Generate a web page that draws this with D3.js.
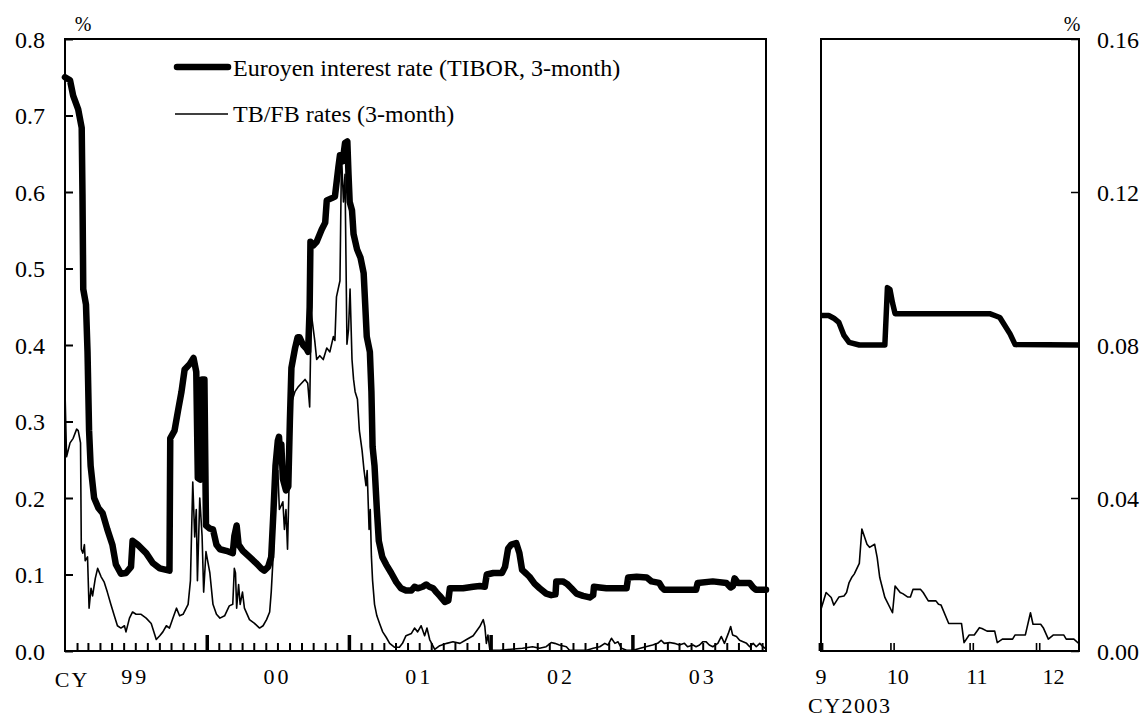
<!DOCTYPE html>
<html><head><meta charset="utf-8">
<script src="https://cdn.jsdelivr.net/npm/d3@7"></script>
<style>
body{margin:0;background:#fff;}
svg text{font-family:"Liberation Serif","Times New Roman",serif;fill:#000;}
</style></head><body>
<svg id="c" width="1146" height="720"></svg>
<script>
// ---------- DATA ----------
const tiborDates = ["1999-01-01","1999-01-14","1999-01-22","1999-02-04","1999-02-13","1999-02-15","1999-02-17","1999-02-24","1999-02-28","1999-03-04","1999-03-08","1999-03-17","1999-03-28","1999-04-08","1999-04-20","1999-05-03","1999-05-12","1999-05-25","1999-06-07","1999-06-20","1999-06-24","1999-07-07","1999-07-29","1999-08-15","1999-09-02","1999-09-27","1999-09-29","1999-10-10","1999-10-19","1999-10-28","1999-11-05","1999-11-18","1999-11-28","1999-12-05","1999-12-09","1999-12-15","1999-12-20","1999-12-26","1999-12-30",
"2000-01-09","2000-01-17","2000-01-26","2000-02-04","2000-02-20","2000-03-08","2000-03-12","2000-03-18","2000-03-23","2000-04-03","2000-04-20","2000-05-07","2000-05-20","2000-05-28","2000-06-07","2000-06-15","2000-06-21","2000-06-26","2000-07-02","2000-07-05","2000-07-09","2000-07-11","2000-07-15","2000-07-23","2000-07-29","2000-08-02","2000-08-06","2000-08-15","2000-08-22","2000-08-27","2000-09-05","2000-09-14","2000-09-18","2000-09-22","2000-09-24","2000-10-01","2000-10-10","2000-10-23","2000-11-01","2000-11-05","2000-11-18","2000-11-26","2000-12-05","2000-12-09","2000-12-16","2000-12-22","2000-12-28","2000-12-31",
"2001-01-03","2001-01-09","2001-01-13","2001-01-22","2001-01-31","2001-02-08","2001-02-12","2001-02-16","2001-02-24","2001-02-28","2001-03-03","2001-03-08","2001-03-14","2001-03-19","2001-03-28","2001-04-07","2001-04-20","2001-05-03","2001-05-15","2001-05-28","2001-06-11","2001-06-19","2001-06-27","2001-07-10","2001-07-19","2001-07-27","2001-08-06","2001-08-14","2001-08-23","2001-09-05","2001-09-14","2001-09-18","2001-10-01","2001-10-22","2001-11-17","2001-12-04","2001-12-17","2001-12-22",
"2002-01-08","2002-01-30","2002-02-07","2002-02-15","2002-02-23","2002-03-08","2002-03-16","2002-03-23","2002-04-03","2002-04-11","2002-04-24","2002-05-07","2002-05-24","2002-06-06","2002-06-17","2002-06-19","2002-07-06","2002-07-16","2002-07-28","2002-08-10","2002-08-27","2002-09-13","2002-09-22","2002-09-24","2002-10-09","2002-10-26","2002-12-17","2002-12-21",
"2003-01-12","2003-02-07","2003-02-19","2003-03-11","2003-03-18","2003-03-24","2003-06-14","2003-06-18","2003-07-27","2003-08-31","2003-09-11","2003-09-17","2003-09-21","2003-09-30","2003-10-30","2003-11-08","2003-11-15","2003-12-11"];
const tiborValues = [0.750,0.746,0.726,0.708,0.684,0.597,0.473,0.453,0.391,0.288,0.242,0.200,0.187,0.180,0.159,0.139,0.113,0.101,0.102,0.110,0.144,0.139,0.128,0.115,0.108,0.105,0.278,0.288,0.314,0.339,0.368,0.375,0.383,0.365,0.226,0.224,0.355,0.355,0.164,
0.160,0.159,0.139,0.133,0.131,0.128,0.150,0.164,0.139,0.131,0.123,0.115,0.108,0.105,0.110,0.123,0.185,0.242,0.275,0.280,0.250,0.270,0.225,0.210,0.215,0.300,0.370,0.395,0.410,0.410,0.400,0.395,0.391,0.450,0.535,0.530,0.535,0.551,0.560,0.589,0.592,0.594,0.633,0.648,0.640,0.664,0.666,0.623,
0.587,0.576,0.545,0.525,0.514,0.494,0.453,0.411,0.391,0.339,0.267,0.242,0.185,0.144,0.123,0.113,0.102,0.090,0.082,0.079,0.079,0.084,0.082,0.084,0.087,0.084,0.082,0.077,0.072,0.064,0.066,0.082,0.082,0.082,0.084,0.085,0.084,0.100,
0.102,0.102,0.110,0.134,0.139,0.141,0.128,0.106,0.101,0.097,0.088,0.082,0.075,0.073,0.074,0.091,0.091,0.088,0.082,0.075,0.072,0.070,0.073,0.084,0.083,0.082,0.082,0.096,
0.097,0.096,0.091,0.089,0.083,0.080,0.080,0.089,0.091,0.089,0.083,0.085,0.095,0.089,0.089,0.083,0.080,0.080];

const tbfbDates = ["1999-01-01","1999-01-05","1999-01-14","1999-01-22","1999-01-31","1999-02-04","1999-02-10","1999-02-12","1999-02-16","1999-02-20","1999-02-22","1999-02-28","1999-03-04","1999-03-09","1999-03-13","1999-03-20","1999-03-26","1999-04-04","1999-04-12","1999-04-20","1999-04-29","1999-05-08","1999-05-16","1999-05-25","1999-06-03","1999-06-07","1999-06-16","1999-06-24","1999-07-03","1999-07-16","1999-07-29","1999-08-11","1999-08-24","1999-09-02","1999-09-10","1999-09-19","1999-09-27","1999-10-06","1999-10-15","1999-10-23","1999-11-01","1999-11-14","1999-11-20","1999-11-26","1999-12-01","1999-12-05","1999-12-08","1999-12-14","1999-12-20","1999-12-24","1999-12-30",
"2000-01-09","2000-01-17","2000-01-26","2000-02-04","2000-02-16","2000-02-28","2000-03-08","2000-03-12","2000-03-15","2000-03-18","2000-03-23","2000-03-27","2000-04-02","2000-04-07","2000-04-20","2000-05-03","2000-05-16","2000-05-25","2000-06-03","2000-06-11","2000-06-15","2000-06-21","2000-06-26","2000-07-02","2000-07-06","2000-07-15","2000-07-19","2000-07-23","2000-07-27","2000-08-02","2000-08-06","2000-08-15","2000-08-23","2000-09-01","2000-09-10","2000-09-17","2000-09-22","2000-09-26","2000-10-05","2000-10-10","2000-10-18","2000-10-27","2000-11-05","2000-11-13","2000-11-22","2000-11-26","2000-11-30","2000-12-09","2000-12-13","2000-12-18","2000-12-22","2000-12-27","2000-12-31",
"2001-01-04","2001-01-09","2001-01-13","2001-01-17","2001-01-23","2001-01-28","2001-02-04","2001-02-09","2001-02-14","2001-02-17","2001-02-22","2001-02-25","2001-02-28","2001-03-03","2001-03-08","2001-03-14","2001-03-21","2001-03-29","2001-04-07","2001-04-16","2001-04-28","2001-05-11","2001-05-19","2001-05-28","2001-06-11","2001-06-19","2001-06-27","2001-07-06","2001-07-15","2001-07-21","2001-07-28","2001-08-10","2001-08-23","2001-09-10","2001-09-26","2001-10-14","2001-10-31","2001-11-17","2001-12-04","2001-12-13","2001-12-17","2001-12-21","2001-12-25","2001-12-30",
"2002-01-25","2002-03-24","2002-04-19","2002-05-07","2002-05-24","2002-06-06","2002-06-15","2002-06-27","2002-07-15","2002-07-23","2002-08-18","2002-09-05","2002-09-22","2002-10-09","2002-10-22","2002-10-30","2002-11-08","2002-11-17","2002-11-25","2002-12-04","2002-12-17",
"2003-01-03","2003-01-21","2003-02-07","2003-02-22","2003-03-07","2003-03-16","2003-03-24","2003-04-07","2003-04-19","2003-05-02","2003-05-15","2003-05-23","2003-06-06","2003-06-14","2003-06-23","2003-07-01","2003-07-10","2003-07-18","2003-07-27","2003-08-09","2003-08-18","2003-08-26","2003-09-05","2003-09-11","2003-09-16","2003-09-26","2003-10-04","2003-10-13","2003-10-22","2003-10-30","2003-11-08","2003-11-16","2003-11-25","2003-12-03","2003-12-11"];
const tbfbValues = [0.340,0.254,0.272,0.278,0.290,0.288,0.272,0.133,0.128,0.139,0.118,0.123,0.056,0.082,0.072,0.095,0.108,0.097,0.090,0.077,0.061,0.046,0.033,0.030,0.033,0.025,0.043,0.051,0.048,0.048,0.043,0.036,0.015,0.020,0.025,0.033,0.030,0.043,0.056,0.046,0.048,0.061,0.092,0.221,0.149,0.185,0.092,0.200,0.150,0.077,0.130,
0.102,0.061,0.048,0.043,0.046,0.059,0.061,0.108,0.102,0.056,0.087,0.061,0.077,0.056,0.041,0.036,0.030,0.033,0.041,0.051,0.077,0.133,0.205,0.236,0.185,0.195,0.159,0.185,0.133,0.262,0.324,0.339,0.345,0.350,0.355,0.350,0.319,0.442,0.406,0.381,0.386,0.381,0.396,0.391,0.411,0.406,0.463,0.484,0.648,0.587,0.623,0.401,0.420,
0.473,0.381,0.355,0.339,0.329,0.288,0.262,0.236,0.216,0.236,0.159,0.185,0.123,0.092,0.061,0.046,0.036,0.025,0.018,0.010,0.005,0.005,0.010,0.020,0.023,0.030,0.025,0.033,0.020,0.030,0.015,0.002,0.007,0.010,0.012,0.010,0.015,0.020,0.032,0.041,0.032,0.010,0.021,0.001,
0.001,0.0035,0.0056,0.0035,0.0056,0.011,0.010,0.0078,0.0056,0.001,0.001,0.001,0.0035,0.0056,0.010,0.0078,0.0166,0.010,0.012,0.0035,0.001,
0.001,0.0035,0.006,0.0078,0.010,0.014,0.010,0.011,0.010,0.0078,0.010,0.0056,0.0078,0.0056,0.0078,0.012,0.012,0.0078,0.0056,0.010,0.019,0.010,0.023,0.032,0.021,0.019,0.014,0.012,0.010,0.0056,0.010,0.0056,0.010,0.0056,0.003];

const recentTiborDates = ["2003-09-01","2003-09-04","2003-09-06","2003-09-08","2003-09-10","2003-09-12","2003-09-16","2003-09-26","2003-09-27","2003-09-28","2003-09-29","2003-09-30","2003-11-06","2003-11-08","2003-11-10","2003-11-14","2003-11-16","2003-12-11"];
const recentTiborValues = [0.0877,0.0877,0.0870,0.0859,0.0825,0.0807,0.0800,0.0800,0.0950,0.0945,0.0910,0.0882,0.0882,0.0877,0.0872,0.0829,0.0801,0.0800];

const recentTbfbDates = ["2003-09-01","2003-09-03","2003-09-05","2003-09-06","2003-09-08","2003-09-10","2003-09-11","2003-09-12","2003-09-13","2003-09-14","2003-09-16","2003-09-17","2003-09-19","2003-09-20","2003-09-22","2003-09-23","2003-09-24","2003-09-26","2003-09-29","2003-09-30","2003-10-02","2003-10-03","2003-10-05","2003-10-06","2003-10-07","2003-10-10","2003-10-11","2003-10-13","2003-10-16","2003-10-17","2003-10-18","2003-10-21","2003-10-26","2003-10-27","2003-10-29","2003-10-31","2003-11-02","2003-11-03","2003-11-05","2003-11-08","2003-11-09","2003-11-11","2003-11-15","2003-11-16","2003-11-20","2003-11-22","2003-11-23","2003-11-26","2003-11-27","2003-11-29","2003-12-01","2003-12-05","2003-12-06","2003-12-09","2003-12-11"];
const recentTbfbValues = [0.0109,0.0153,0.0140,0.0120,0.0141,0.0144,0.0153,0.0179,0.0192,0.0201,0.0229,0.0319,0.0279,0.0271,0.0279,0.0244,0.0192,0.0140,0.0100,0.0170,0.0153,0.0150,0.0141,0.0141,0.0161,0.0161,0.0153,0.0131,0.0131,0.0122,0.0120,0.0072,0.0072,0.0022,0.0042,0.0042,0.0061,0.0059,0.0052,0.0052,0.0022,0.0031,0.0031,0.0042,0.0042,0.0100,0.0070,0.0070,0.0061,0.0031,0.0042,0.0042,0.0031,0.0031,0.0019];

const leftYTicks = [0.0,0.1,0.2,0.3,0.4,0.5,0.6,0.7,0.8];
const rightYTicks = [0.00,0.04,0.08,0.12,0.16];
const yearLabels = ["99","00","01","02","03"];
const yearLabelDates = ["1999-07-01","2000-07-01","2001-07-01","2002-07-01","2003-07-01"];
const monthLabels = ["9","10","11","12"];
const monthLabelDates = ["2003-09-01","2003-10-01","2003-11-01","2003-12-01"];
const rightTickDates = ["2003-09-01","2003-09-29","2003-10-30","2003-11-25"];
const legendLabels = ["Euroyen interest rate (TIBOR, 3-month)","TB/FB rates (3-month)"];

// ---------- CHART ----------
const parse = d3.timeParse("%Y-%m-%d");
const zip = (ds, vs) => ds.map((d,i)=>({date:parse(d), v:vs[i]}));
const tibor = zip(tiborDates, tiborValues);
const tbfb = zip(tbfbDates, tbfbValues);
const rTibor = zip(recentTiborDates, recentTiborValues);
const rTbfb = zip(recentTbfbDates, recentTbfbValues);

const svg = d3.select("#c");
const L = {x0:65, x1:766, y0:39, y1:651};
const R = {x0:821, x1:1079, y0:39, y1:651};

const xL = d3.scaleTime().domain([parse("1999-01-01"), parse("2003-12-11")]).range([L.x0, L.x1]);
const yL = d3.scaleLinear().domain([0,0.8]).range([L.y1, L.y0]);
const xR = d3.scaleTime().domain([parse("2003-09-01"), parse("2003-12-11")]).range([R.x0, R.x1]);
const yR = d3.scaleLinear().domain([0,0.16]).range([R.y1, R.y0]);

// Left y axis
const gyl = svg.append("g").attr("transform", `translate(${L.x0},0)`)
  .call(d3.axisLeft(yL).tickValues(leftYTicks).tickFormat(d3.format(".1f")).tickSize(-8).tickPadding(20));
gyl.select(".domain").remove();
gyl.selectAll(".tick line").attr("stroke","#000").attr("stroke-width",2);
gyl.selectAll(".tick text").attr("font-size",24).attr("font-family","Liberation Serif, Times New Roman, serif").attr("dy","0.35em");

// Right y axis
const gyr = svg.append("g").attr("transform", `translate(${R.x1},0)`)
  .call(d3.axisRight(yR).tickValues(rightYTicks).tickFormat(d3.format(".2f")).tickSize(-8).tickPadding(18));
gyr.select(".domain").remove();
gyr.selectAll(".tick line").attr("stroke","#000").attr("stroke-width",1.5);
gyr.selectAll(".tick text").attr("font-size",24).attr("font-family","Liberation Serif, Times New Roman, serif").attr("dy","0.35em");

// Left x axis: monthly ticks, year ticks bigger
const months = d3.timeMonth.range(parse("1999-02-01"), parse("2003-12-11"));
const gxl = svg.append("g").attr("transform", `translate(0,${L.y1})`)
  .call(d3.axisBottom(xL).tickValues(months).tickFormat("").tickSize(-8));
gxl.select(".domain").remove();
gxl.selectAll(".tick line").attr("stroke","#000").attr("stroke-width",2)
  .filter(d => d.getMonth()===0).attr("y2",-16).attr("stroke-width",3.5);

// Right x axis: double ticks
const gxr = svg.append("g").attr("transform", `translate(0,${R.y1})`);
rightTickDates.map(parse).forEach(d => {
  [-1.6, 1.6].forEach(off => {
    gxr.append("line").attr("x1", xR(d)+off).attr("x2", xR(d)+off)
      .attr("y1",0).attr("y2",-8).attr("stroke","#000").attr("stroke-width",1.6);
  });
});

// Lines
const lineL = d3.line().x(d=>xL(d.date)).y(d=>yL(d.v));
const lineR = d3.line().x(d=>xR(d.date)).y(d=>yR(d.v));
svg.append("path").datum(tibor).attr("d",lineL).attr("fill","none").attr("stroke","#000")
  .attr("stroke-width",6.5).attr("stroke-linejoin","round").attr("stroke-linecap","round");
svg.append("path").datum(tbfb).attr("d",lineL).attr("fill","none").attr("stroke","#000")
  .attr("stroke-width",1.6).attr("stroke-linejoin","round");
svg.append("path").datum(rTibor).attr("d",lineR).attr("fill","none").attr("stroke","#000")
  .attr("stroke-width",5.5).attr("stroke-linejoin","round").attr("stroke-linecap","butt");
svg.append("path").datum(rTbfb).attr("d",lineR).attr("fill","none").attr("stroke","#000")
  .attr("stroke-width",1.6).attr("stroke-linejoin","round");

// Frames
[L,R].forEach(p => svg.append("rect").attr("x",p.x0).attr("y",p.y0)
  .attr("width",p.x1-p.x0).attr("height",p.y1-p.y0)
  .attr("fill","none").attr("stroke","#000").attr("stroke-width",2));

// Units
svg.append("text").attr("x",83).attr("y",31).attr("text-anchor","middle").attr("font-size",20).text("%");
svg.append("text").attr("x",1072).attr("y",31).attr("text-anchor","middle").attr("font-size",20).text("%");

// x labels
svg.append("text").attr("x",72).attr("y",687).attr("text-anchor","middle").attr("font-size",22)
  .attr("letter-spacing","2px").text("CY");
yearLabels.forEach((t,i)=> svg.append("text").attr("x", xL(parse(yearLabelDates[i]))).attr("y",684)
  .attr("text-anchor","middle").attr("font-size",22).attr("letter-spacing","3px").text(t));
monthLabels.forEach((t,i)=> svg.append("text").attr("x", xR(parse(monthLabelDates[i]))).attr("y",684)
  .attr("text-anchor","middle").attr("font-size",22).text(t));
svg.append("text").attr("x",808).attr("y",713).attr("font-size",22).attr("letter-spacing","1.5px").text("CY2003");

// Legend
const lg = svg.append("g");
lg.append("line").attr("x1",177).attr("x2",228).attr("y1",67).attr("y2",67)
  .attr("stroke","#000").attr("stroke-width",6.5).attr("stroke-linecap","round");
lg.append("line").attr("x1",175).attr("x2",228).attr("y1",114).attr("y2",114)
  .attr("stroke","#000").attr("stroke-width",1.6);
lg.append("text").attr("x",233).attr("y",76).attr("font-size",24).text(legendLabels[0]);
lg.append("text").attr("x",233).attr("y",122).attr("font-size",24).text(legendLabels[1]);
</script>
</body></html>
